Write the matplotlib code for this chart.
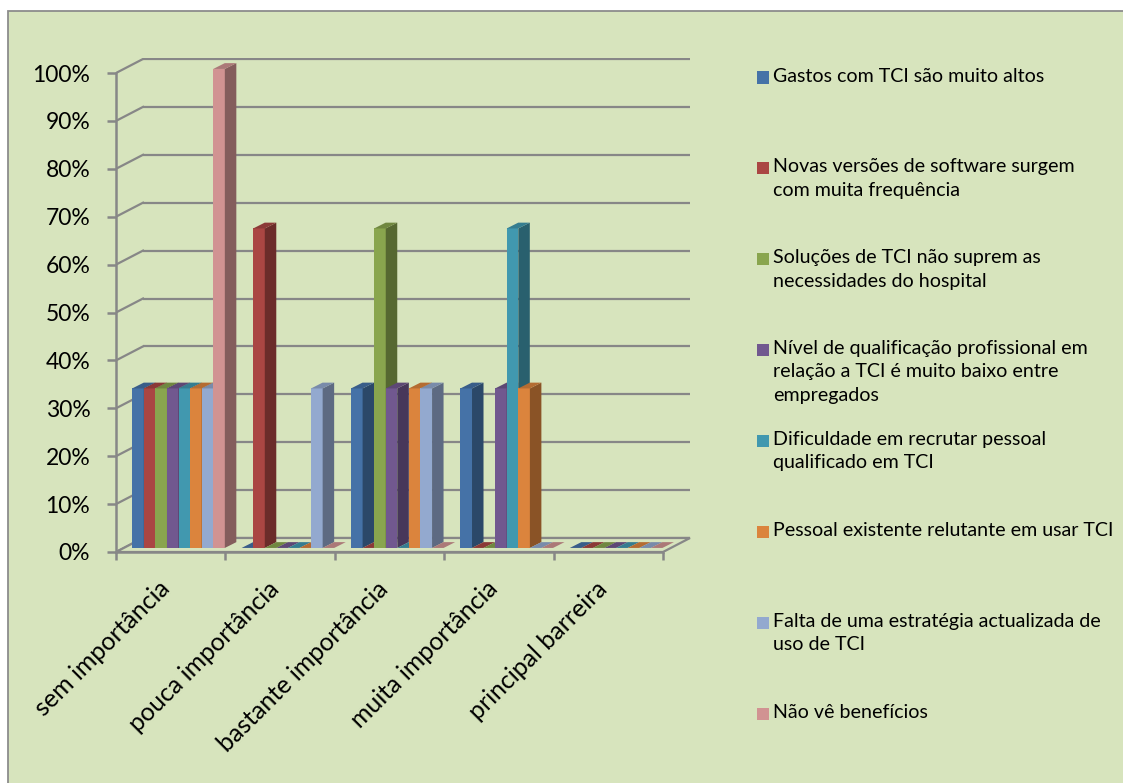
import matplotlib
matplotlib.use("Agg")
import matplotlib.pyplot as plt
from matplotlib.patches import Polygon, Rectangle
from matplotlib.colors import to_rgb

plt.rcParams['font.family'] = ['Lato', 'DejaVu Sans']

categories = ["sem importância", "pouca importância", "bastante importância",
              "muita importância", "principal barreira"]
series = [
    "Gastos com TCI são muito altos",
    "Novas versões de software surgem\ncom muita frequência",
    "Soluções de TCI não suprem as\nnecessidades do hospital",
    "Nível de qualificação profissional em\nrelação a TCI é muito baixo entre\nempregados",
    "Dificuldade em recrutar pessoal\nqualificado em TCI",
    "Pessoal existente relutante em usar TCI",
    "Falta de uma estratégia actualizada de\nuso de TCI",
    "Não vê benefícios",
]
# percent per series, one value per category
gastos      = [33.3, 0, 33.3, 33.3, 0]
novas       = [33.3, 66.7, 0, 0, 0]
solucoes    = [33.3, 0, 66.7, 0, 0]
nivel       = [33.3, 0, 33.3, 33.3, 0]
dificuldade = [33.3, 0, 0, 66.7, 0]
pessoal     = [33.3, 0, 33.3, 33.3, 0]
falta       = [33.3, 33.3, 33.3, 0, 0]
nao_ve      = [100, 0, 0, 0, 0]
values = [gastos, novas, solucoes, nivel, dificuldade, pessoal, falta, nao_ve]

colors = ["#4572A7", "#AA4643", "#89A54E", "#71588F",
          "#4198AF", "#DB843D", "#93A9CF", "#D19392"]
BG = "#D7E4BD"
GRID = "#878787"

W, H = 1123, 783
fig = plt.figure(figsize=(W / 100, H / 100), dpi=100, facecolor="white")
fig.patches.append(Rectangle((8 / W, -0.02), 1.1, (H - 11) / H + 0.02,
                             transform=fig.transFigure, facecolor=BG,
                             edgecolor="#8C8C8C", linewidth=1.3, zorder=-1))

# pixel scale of the front axis
PX_X = 109.4   # px per category
PX_Y = 4.79    # px per percent
DX, DY = 27 / PX_X, 14 / PX_Y          # depth of the back wall
XMAX, YMAX = 5 + DX + 0.01, 100 + DY + 0.3
ax = fig.add_axes([116 / W, (H - 552) / H, PX_X * XMAX / W, PX_Y * YMAX / H])
ax.set_zorder(1)
ax.set_xlim(0, XMAX)
ax.set_ylim(0, YMAX)
ax.patch.set_visible(False)

# back wall gridlines and their left-side diagonals
for v in range(0, 101, 10):
    ax.plot([DX, 5 + DX], [v + DY, v + DY], color=GRID, lw=1.6, zorder=1,
            solid_capstyle="butt")
    ax.plot([0, DX], [v, v + DY], color=GRID, lw=1.6, zorder=1)
# floor
ax.add_patch(Polygon([(0, 0), (5, 0), (5 + DX, DY), (DX, DY)], closed=True,
                     facecolor=BG, edgecolor=GRID, lw=1.6, zorder=1.5))

# bars
bw = 0.1058
gap = (1 - bw * 8) / 2
bx0, by0 = 0.29 * DX, 0.29 * DY
ddx, ddy = 11.5 / PX_X, 5.8 / PX_Y


def shade(c, f):
    r, g, b = to_rgb(c)
    return (r * f, g * f, b * f)


for c in range(len(categories)):
    for s, vals in enumerate(values):
        v = vals[c]
        x0 = c + gap + bx0 + s * bw
        z = 3 + c * 0.1 + s * 0.01
        col = colors[s]
        if v > 0:
            ax.bar(x0, v, width=bw, bottom=by0, align="edge", color=col,
                   linewidth=0, zorder=z)
            ax.add_patch(Polygon([(x0 + bw, by0), (x0 + bw + ddx, by0 + ddy),
                                  (x0 + bw + ddx, by0 + v + ddy), (x0 + bw, by0 + v)],
                                 closed=True, facecolor=shade(col, 0.63),
                                 linewidth=0, zorder=z))
        ax.add_patch(Polygon([(x0, by0 + v), (x0 + ddx, by0 + v + ddy),
                              (x0 + bw + ddx, by0 + v + ddy), (x0 + bw, by0 + v)],
                             closed=True, facecolor=shade(col, 0.82),
                             linewidth=0, zorder=z))

# axes
for side in ["top", "right"]:
    ax.spines[side].set_visible(False)
for side in ["left", "bottom"]:
    ax.spines[side].set_color(GRID)
    ax.spines[side].set_linewidth(1.8)
    ax.spines[side].set_zorder(2)
ax.spines["left"].set_bounds(0, 100)
ax.spines["bottom"].set_bounds(0, 5)

ax.set_yticks(range(0, 101, 10))
ax.set_yticklabels([f"{v}%" for v in range(0, 101, 10)])
ax.tick_params(axis="y", length=6.5, width=1.8, color=GRID, pad=12,
               labelsize=16.5, labelcolor="black")

ax.set_xticks([i + 0.53 for i in range(5)])
ax.set_xticklabels(categories, rotation=45, ha="right")
ax.set_xticks(range(6), minor=True)
ax.tick_params(axis="x", which="major", length=0, pad=18, labelsize=18,
               labelcolor="black")
ax.tick_params(axis="x", which="minor", length=6, width=1.8, color=GRID)

# legend
for i, (name, col) in enumerate(zip(series, colors)):
    yc = 77.5 + i * 90.9
    fig.patches.append(Rectangle((757 / W, 1 - (yc + 6) / H), 12 / W, 12 / H,
                                 transform=fig.transFigure, facecolor=col,
                                 edgecolor="none", zorder=5))
    fig.text(773 / W, 1 - (yc - 10) / H, name, ha="left", va="top",
             fontsize=14.1, linespacing=1.45, color="black")

fig.savefig("out.png", dpi=100, facecolor=fig.get_facecolor())
